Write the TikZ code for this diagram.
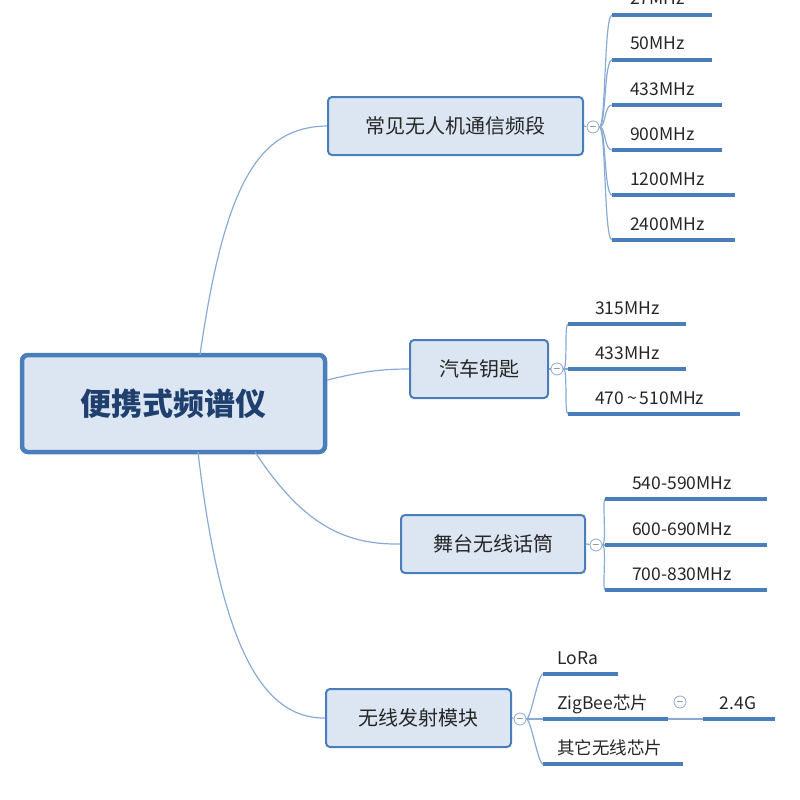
\documentclass[tikz,border=0pt]{standalone}
\usepackage{fontspec}
\setmainfont{Noto Sans CJK SC}
\usetikzlibrary{positioning}
\definecolor{mapblue}{HTML}{4A7EBB}
\definecolor{mapfill}{HTML}{DCE6F2}
\definecolor{maptext}{HTML}{1F3F6E}
\definecolor{linkblue}{HTML}{8AAAD6}

\tikzset{
  rootbox/.style={draw=mapblue, line width=4.5pt, fill=mapfill, rounded corners=6pt, minimum width=303pt, minimum height=97pt, font=\fontsize{31}{33}\selectfont\bfseries, text=maptext},
  branchbox/.style={draw=mapblue, line width=2pt, fill=mapfill, rounded corners=4pt, minimum height=58pt, font=\fontsize{20}{22}\selectfont, text=black!85},
  fold/.style={circle, draw=linkblue, line width=0.8pt, fill=white, minimum size=12pt, inner sep=0pt},
  leafline/.style={mapblue, line width=3.5pt},
  leaftext/.style={anchor=base west, font=\fontsize{17.5}{19}\selectfont, text=black!85, inner sep=0pt},
  link/.style={linkblue, line width=1.2pt}
}

\begin{document}
\begin{tikzpicture}[x=1pt,y=-1pt]
\useasboundingbox (0,0) rectangle (800,800);
\clip (0,0) rectangle (800,800);

% Root
\node[rootbox] (root) at (173.5,403.5) {便携式频谱仪};

% Branches
\node[branchbox, minimum width=255pt] (drone) at (455.5,126) {常见无人机通信频段};
\node[branchbox, minimum width=138pt] (key) at (479,369) {汽车钥匙};
\node[branchbox, minimum width=184pt] (mic) at (493,544) {舞台无线话筒};
\node[branchbox, minimum width=185pt] (tx) at (418.5,718) {无线发射模块};

\draw[link] (200,355) .. controls (225,180) and (260,127) .. (drone.west);
\draw[link] (root.east |- 0,380) .. controls (360,372) and (380,369) .. (key.west);
\draw[link] (255,452) .. controls (300,520) and (340,545) .. (mic.west);
\draw[link] (198,452) .. controls (220,640) and (260,719) .. (tx.west);

% Fold markers
\node[fold] (fdrone) at (593,127) {$-$};
\node[fold] (fkey) at (557,369) {$-$};
\node[fold] (fmic) at (596,545) {$-$};
\node[fold] (ftx) at (520,719) {$-$};
\draw[link] (drone.east) -- (fdrone);
\draw[link] (key.east) -- (fkey);
\draw[link] (mic.east) -- (fmic);
\draw[link] (tx.east) -- (ftx);

% Drone bands
\foreach \y/\xe/\t [count=\i] in {15/712/27MHz, 60/712/50MHz, 105/722/433MHz, 150/722/900MHz, 195/735/1200MHz, 240/735/2400MHz}{
  \coordinate (d\i) at (612,\y);
  \draw[link] (fdrone.east) .. controls (606,127) and (604,\y) .. (d\i);
  \draw[leafline] (d\i) -- (\xe,\y);
  \node[leaftext] (dt\i) at (630,\y-10) {\t};
}

% Key bands
\foreach \y/\xe/\t [count=\i] in {324/686/315MHz, 369/686/433MHz, 414/740/470\,\textasciitilde\,510MHz}{
  \coordinate (k\i) at (568,\y);
  \draw[link] (fkey.east) .. controls (568,369) and (564,\y) .. (k\i);
  \draw[leafline] (k\i) -- (\xe,\y);
  \node[leaftext] (kt\i) at (595,\y-10) {\t};
}

% Microphone bands
\foreach \y/\t [count=\i] in {499/540-590MHz, 545/600-690MHz, 590/700-830MHz}{
  \coordinate (m\i) at (605,\y);
  \draw[link] (fmic.east) .. controls (607,545) and (602,\y) .. (m\i);
  \draw[leafline] (m\i) -- (767,\y);
  \node[leaftext] (mt\i) at (632,\y-10) {\t};
}

% Transmitter modules
\foreach \y/\xe/\t [count=\i] in {674/618/LoRa, 719/668/ZigBee芯片, 764/683/其它无线芯片}{
  \coordinate (t\i) at (543,\y);
  \draw[link] (ftx.east) .. controls (531,719) and (538,\y) .. (t\i);
  \draw[leafline] (t\i) -- (\xe,\y);
  \node[leaftext] (tt\i) at (557,\y-10) {\t};
}

% ZigBee sub node
\node[fold] (fzig) at (680,702) {$-$};
\coordinate (g1) at (703,719);
\draw[link] (668,719) -- (g1);
\draw[leafline] (g1) -- (775,719);
\node[leaftext, anchor=base] (gt1) at (738,709) {2.4G};
\end{tikzpicture}
\end{document}
